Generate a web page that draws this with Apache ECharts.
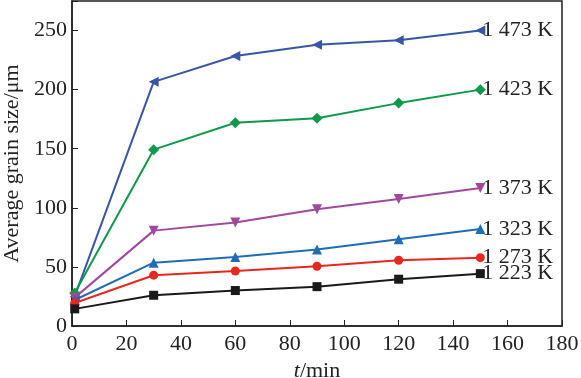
<!DOCTYPE html>
<html>
<head>
<meta charset="utf-8">
<script src="https://cdn.jsdelivr.net/npm/echarts@6/dist/echarts.min.js"></script>
<style>html,body{margin:0;padding:0;background:#fff;}#c{width:581px;height:378px;}</style>
</head>
<body>
<div id="c"></div>
<script>
var times = [1, 30, 60, 90, 120, 150];
var s1473 = [25, 206.6, 228.5, 238, 241.7, 250];
var s1423 = [28, 149.2, 172, 175.8, 188.6, 200];
var s1373 = [24, 80.7, 87.5, 98.8, 107.5, 116.8];
var s1323 = [22, 53.6, 58.4, 64.7, 73.5, 82];
var s1273 = [19.5, 43, 46.5, 50.6, 55.6, 57.8];
var s1223 = [14.5, 26, 30, 33.3, 39.6, 44.3];
var seriesNames = ['1 473 K', '1 423 K', '1 373 K', '1 323 K', '1 273 K', '1 223 K'];
var xTicks = [0, 20, 40, 60, 80, 100, 120, 140, 160, 180];
var yTicks = [0, 50, 100, 150, 200, 250];

var styles = [
  {color: '#3b55a5', symbol: 'triangle', rotate: 90, size: 10},
  {color: '#10994a', symbol: 'diamond', rotate: 0, size: 11},
  {color: '#a0499a', symbol: 'triangle', rotate: 180, size: 10},
  {color: '#1f6db5', symbol: 'triangle', rotate: 0, size: 10},
  {color: '#e8281e', symbol: 'circle', rotate: 0, size: 9},
  {color: '#1a1a1a', symbol: 'rect', rotate: 0, size: 9}
];
var data = [s1473, s1423, s1373, s1323, s1273, s1223];
var font = '"Liberation Serif", "DejaVu Serif", serif';

var series = data.map(function (arr, i) {
  var st = styles[i];
  return {
    name: seriesNames[i],
    type: 'line',
    data: arr.map(function (v, j) { return [times[j], v]; }),
    symbol: st.symbol,
    symbolSize: st.size,
    symbolRotate: st.rotate,
    lineStyle: {color: st.color, width: 2},
    itemStyle: {color: st.color},
    endLabel: {
      show: true,
      formatter: seriesNames[i],
      color: '#222',
      fontFamily: font,
      fontSize: 22,
      distance: 2
    },
    animation: false
  };
});

var chart = echarts.init(document.getElementById('c'));
chart.setOption({
  backgroundColor: '#fff',
  animation: false,
  grid: {left: 72, top: 1, right: 19, bottom: 52, show: true, borderColor: '#222', borderWidth: 1.5, containLabel: false, outerBoundsMode: 'none'},
  xAxis: {
    type: 'value', min: 0, max: 180, interval: 20,
    name: '{i|t}/min', nameLocation: 'middle', nameGap: 30,
    nameTextStyle: {fontFamily: font, fontSize: 22, color: '#222', rich: {i: {fontStyle: 'italic', fontFamily: font, fontSize: 22, color: '#222'}}},
    axisLine: {lineStyle: {color: '#222', width: 1.5}},
    axisTick: {inside: true, length: 6, lineStyle: {color: '#222'}},
    axisLabel: {fontFamily: font, fontSize: 22, color: '#222', margin: 7,
      formatter: function (v) { return xTicks.indexOf(v) >= 0 ? String(v) : ''; }},
    splitLine: {show: false}
  },
  yAxis: {
    type: 'value', min: 0, max: 275, interval: 50,
    name: 'Average grain size/μm', nameLocation: 'middle', nameGap: 49,
    nameTextStyle: {fontFamily: font, fontSize: 22, color: '#222'},
    axisLine: {lineStyle: {color: '#222', width: 1.5}},
    axisTick: {inside: true, length: 6, lineStyle: {color: '#222'}},
    axisLabel: {fontFamily: font, fontSize: 22, color: '#222', margin: 5,
      formatter: function (v) { return yTicks.indexOf(v) >= 0 ? String(v) : ''; }},
    splitLine: {show: false}
  },
  series: series
});
</script>
</body>
</html>
